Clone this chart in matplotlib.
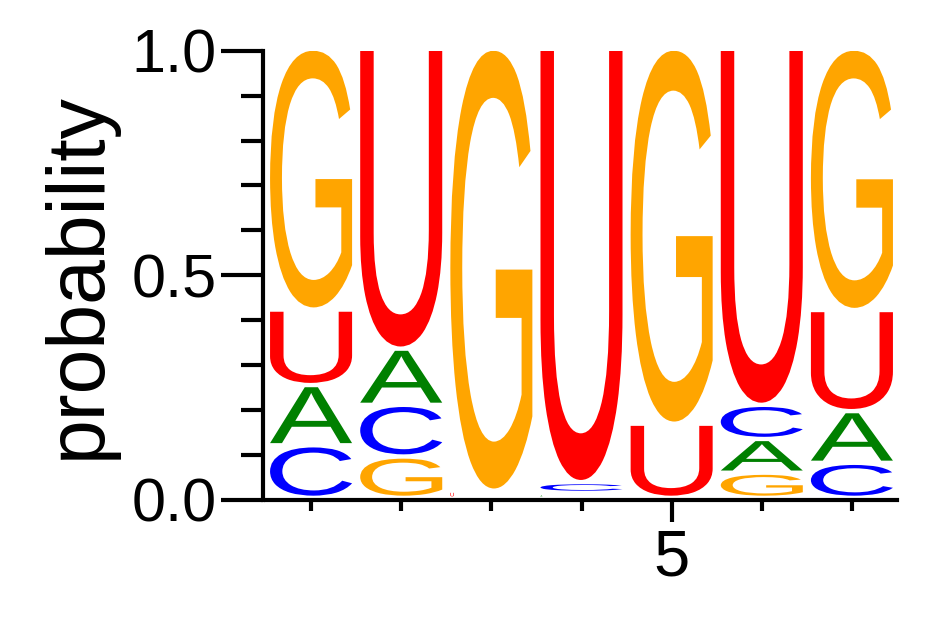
import matplotlib
matplotlib.use('Agg')
import matplotlib.pyplot as plt
from matplotlib.textpath import TextPath
from matplotlib.patches import PathPatch
from matplotlib.font_manager import FontProperties
from matplotlib.transforms import Affine2D
from matplotlib.ticker import FixedLocator

# probabilities per position
positions = [1, 2, 3, 4, 5, 6, 7]
prob_A = [0.134, 0.125, 0.000, 0.008, 0.000, 0.075, 0.115]
prob_C = [0.117, 0.115, 0.000, 0.024, 0.000, 0.076, 0.078]
prob_G = [0.581, 0.092, 0.984, 0.003, 0.835, 0.056, 0.582]
prob_U = [0.168, 0.668, 0.016, 0.965, 0.165, 0.793, 0.225]

letters = ['A', 'C', 'G', 'U']
colors = {'A': '#008000', 'C': '#0000FF', 'G': '#FFA500', 'U': '#FF0000'}

plt.rcParams['font.family'] = ['Liberation Sans', 'DejaVu Sans']

fig = plt.figure(figsize=(9.42, 6.17), dpi=100)
ax = fig.add_axes([266 / 942, 117 / 617, 631 / 942, 449.3 / 617])
ax.set_xlim(0.5, 7.5)
ax.set_ylim(0, 1)

font = FontProperties(family='Liberation Sans')
letter_w = 0.91
gap = 0.0096
# y units per x unit in pixels, for tiny letters drawn at natural shape
px_x = 631 / 7.0
px_y = 449.3


def draw_letter(ch, xc, y0, h):
    pad = min(gap, 0.5 * h)
    dh = h - pad
    if dh <= 0:
        return
    tp = TextPath((0, 0), ch, size=1, prop=font)
    ext = tp.get_extents()
    w = letter_w
    xl = xc - letter_w / 2
    if dh * px_y < 6:
        w = dh * px_y / px_x
    tr = (Affine2D().translate(-ext.x0, -ext.y0)
          .scale(w / ext.width, dh / ext.height)
          .translate(xl, y0 + pad))
    path = tr.transform_path(tp)
    ax.add_patch(PathPatch(path, facecolor=colors[ch], edgecolor='none', lw=0))


table = {'A': prob_A, 'C': prob_C, 'G': prob_G, 'U': prob_U}
for i, pos in enumerate(positions):
    vals = sorted([(table[l][i], l) for l in letters])
    y = 0.0
    for v, l in vals:
        if v > 0:
            draw_letter(l, pos, y, v)
        y += v

for s in ['top', 'right']:
    ax.spines[s].set_visible(False)
ax.spines['left'].set_position(('outward', 2.5))
ax.spines['left'].set_linewidth(3)
ax.spines['bottom'].set_linewidth(3)

ax.yaxis.set_major_locator(FixedLocator([0.0, 0.5, 1.0]))
ax.yaxis.set_minor_locator(FixedLocator([0.1, 0.2, 0.3, 0.4, 0.6, 0.7, 0.8, 0.9]))
ax.set_yticklabels(['0.0', '0.5', '1.0'])
ax.xaxis.set_major_locator(FixedLocator([5]))
ax.xaxis.set_minor_locator(FixedLocator(positions))
ax.set_xticklabels(['5'])

ax.tick_params(axis='y', which='major', length=30.5, width=3, labelsize=44, pad=2.4)
ax.tick_params(axis='y', which='minor', length=15.5, width=3)
ax.tick_params(axis='x', which='major', length=15.6, width=3, labelsize=47, pad=5)
ax.tick_params(axis='x', which='minor', length=7.7, width=3)

ax.set_ylabel('probability', fontsize=58)
ax.yaxis.set_label_coords(-0.236, 0.5)

fig.savefig('out.png', dpi=100)
